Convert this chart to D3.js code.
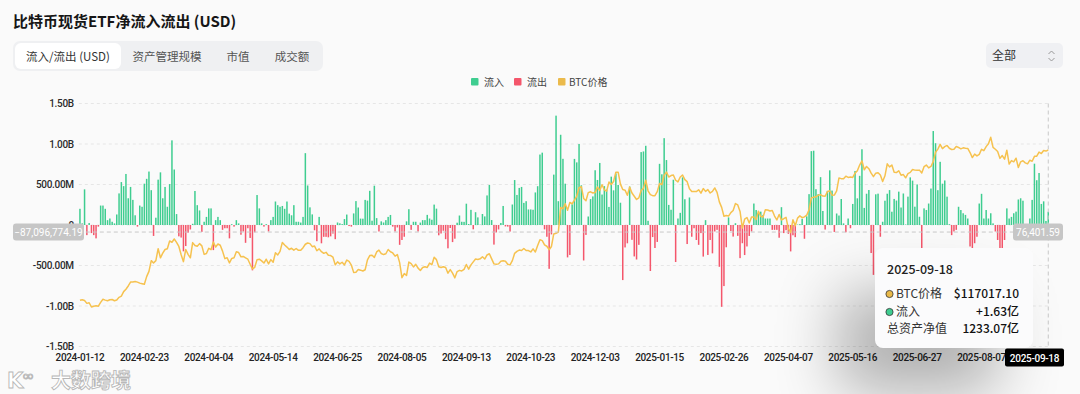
<!DOCTYPE html>
<html>
<head>
<meta charset="utf-8">
<script src="https://cdn.jsdelivr.net/npm/d3@7"></script>
<style>
  body { margin: 0; background: #fafafa; font-family: "Noto Sans CJK SC", "Noto Sans", sans-serif; }
  #chart { position: relative; width: 1080px; height: 394px; overflow: hidden; }
  #chart svg { position: absolute; left: 0; top: 0; }
  .tip { position: absolute; left: 875px; top: 248px; width: 158px; height: 100px; background: #fbfbfc;
         border-radius: 8px; box-shadow: -36px 44px 62px rgba(0,0,0,0.30); }
</style>
</head>
<body>
<div id="chart"></div>
<script>
// daily net flow, millions USD (one value per trading day, 2024-01-12 .. 2025-09-18)
var flows = [
  200,20,440,-125,25,-100,-125,-165,-20,240,240,200,60,80,40,20,130,390,530,480,630,330,470,310,120,-20,240,225,510,570,660,430,-135,
  90,560,650,330,470,225,505,1045,685,135,-140,-155,-325,-260,-95,-55,15,420,245,180,
  -85,40,100,205,205,-310,60,100,60,-60,-40,-40,-165,10,-20,60,20,-120,-80,-220,-40,-160,
  -560,-90,370,205,20,-20,10,-80,60,100,290,245,225,235,200,290,140,120,245,40,40,30,
  100,887,488,218,131,-65,-200,100,-226,-146,-146,-152,-140,-106,-175,31,21,11,73,
  129,-13,-20,143,295,216,79,78,310,301,422,53,485,85,-80,45,31,60,100,124,-20,-80,
  -30,-245,-185,-145,45,195,-60,40,40,-80,30,60,60,125,80,65,252,202,-127,-105,-71,-175,
  -288,-37,-211,-169,28,117,40,39,263,12,187,-53,158,94,4,136,106,365,494,61,
  -242,-92,-55,25,235,-18,-20,-81,253,555,371,458,470,273,294,192,192,188,402,479,870,893,-54,
  -145,-541,-116,622,1350,294,1114,817,510,-400,-370,255,816,773,1000,490,-438,-122,105,320,
  353,676,556,766,376,480,438,223,597,428,637,494,275,-680,-277,-226,475,-183,-388,-426,-245,
  900,908,978,52,-568,-149,-284,-209,755,626,1072,802,248,188,559,-457,80,150,588,318,
  -235,340,-145,-40,-185,-245,-100,-390,60,-370,-185,-350,-80,-60,-516,-1010,-754,-275,94,
  -74,-143,22,-134,-409,-225,-371,-265,-135,-80,265,185,145,165,125,80,80,80,-60,-60,-60,
  -157,220,-100,-64,-109,-326,-127,-150,5,10,76,-170,107,381,912,917,442,381,591,173,-56,
  422,675,425,-86,142,117,321,20,-90,80,-40,260,667,329,607,935,211,386,432,-346,-616,
  379,387,-145,40,300,386,431,164,322,302,412,216,389,6,350,588,548,226,501,102,
  -285,205,185,265,450,1160,1010,430,780,510,550,350,10,-125,-80,-60,225,185,145,125,80,-265,
  -285,-225,-145,265,385,80,185,80,145,20,-80,-185,-285,-285,-185,205,80,100,145,165,315,
  330,300,-40,-160,80,310,757,553,642,260,292,50,163
];

// BTC price, thousands USD, same days
var prices = [
  42.8,43.1,42.7,41.3,41.6,39.5,39.9,40.1,39.9,41.8,43.3,42.9,42.6,
  43.1,43.2,42.6,43.0,44.3,44.9,47.1,48.3,49.9,51.8,51.9,52.1,51.8,51.3,51.0,50.7,54.5,57.1,62.4,61.2,
  62.4,68.3,63.8,66.1,67.9,68.3,72.1,71.5,73.1,71.4,69.4,65.3,61.9,67.9,65.5,63.8,71.3,69.9,69.5,70.8,
  69.7,65.5,65.9,68.5,67.8,71.6,69.1,70.6,70.0,67.1,63.4,63.8,61.3,63.5,63.8,66.8,66.4,64.3,64.5,63.8,63.1,60.6,
  58.3,59.1,62.9,63.1,62.3,61.2,63.1,60.8,62.9,61.6,66.3,65.2,67.0,71.4,70.1,69.1,67.9,68.5,67.6,68.4,67.5,67.5,
  68.8,70.5,71.1,70.8,69.3,69.6,67.3,68.2,66.8,66.0,66.5,65.1,64.9,64.1,60.3,61.8,60.8,61.6,60.3,
  62.7,62.0,60.2,56.6,56.7,58.0,57.7,57.3,57.9,62.8,64.9,65.1,64.0,66.7,67.6,65.9,65.4,65.8,67.9,66.8,66.2,64.6,
  65.4,61.4,54.0,56.0,55.1,61.7,60.9,59.3,60.6,58.7,57.5,59.0,59.4,59.0,61.2,60.4,64.1,62.9,59.4,59.0,59.4,59.0,
  56.2,58.0,56.2,53.9,57.0,57.6,57.3,58.1,60.5,58.2,60.3,61.8,63.2,63.0,63.3,64.3,63.2,65.2,65.8,63.3,
  60.8,60.6,60.8,62.1,62.3,62.1,60.6,60.3,62.4,66.0,67.0,67.6,67.4,68.4,67.4,67.4,66.7,68.2,66.7,69.9,72.7,72.3,70.2,
  69.5,67.8,69.4,75.6,75.9,76.5,88.7,88.0,90.5,87.3,91.1,90.5,92.3,94.3,98.4,98.9,93.1,92.0,96.0,96.4,
  95.8,96.0,98.8,97.0,99.9,97.4,96.7,101.2,100.0,101.5,106.1,106.1,100.2,97.5,97.2,94.7,98.7,95.8,94.2,92.6,93.4,
  97.0,98.1,102.1,96.9,95.0,94.5,94.5,96.5,100.5,99.9,104.5,106.1,103.7,104.4,104.7,102.1,101.3,103.7,104.7,102.4,
  101.4,97.9,96.6,96.6,96.5,97.4,95.7,98.0,96.6,97.5,95.8,96.6,98.3,96.1,91.4,88.7,84.3,84.7,84.4,
  86.1,87.2,90.6,89.9,86.7,78.5,82.9,83.7,81.0,83.9,84.0,82.7,86.8,84.2,84.0,87.5,87.4,86.9,87.2,84.4,82.5,
  85.2,82.5,83.1,83.8,78.2,76.3,82.6,79.6,83.4,84.5,83.6,84.0,84.9,87.5,93.4,93.7,93.9,94.7,95.0,94.3,94.2,
  96.5,96.9,94.7,94.8,96.8,103.2,102.9,102.8,104.1,103.5,103.7,103.5,105.6,106.8,109.6,111.7,107.3,108.9,107.8,105.6,103.9,
  105.6,105.8,104.7,101.5,104.3,110.2,108.7,109.6,106.1,105.9,106.8,104.6,104.9,103.3,105.4,106.0,107.4,107.1,107.0,107.1,
  105.7,108.8,109.6,108.2,108.9,111.3,115.9,117.5,119.8,117.7,118.7,119.3,117.9,117.3,117.4,118.8,118.3,117.6,118.1,117.9,117.8,115.8,
  113.3,115.0,114.1,114.9,117.4,116.7,118.7,120.1,123.3,118.3,117.4,116.3,112.9,114.3,112.5,116.9,110.1,111.8,111.2,113.0,108.4,
  111.2,111.7,110.7,110.2,112.0,111.5,113.9,114.0,116.0,115.3,116.8,116.5,117.017
];

// x tick labels, every 28th trading day
var tickIdx = [0, 28, 56, 84, 112, 140, 168, 196, 224, 252, 280, 308, 336, 364, 392];
var tickLabels = ["2024-01-12","2024-02-23","2024-04-04","2024-05-14","2024-06-25","2024-08-05","2024-09-13",
  "2024-10-23","2024-12-03","2025-01-15","2025-02-26","2025-04-07","2025-05-16","2025-06-27","2025-08-07"];

var yTicks = [1500, 1000, 500, 0, -500, -1000, -1500];
var yTickLabels = ["1.50B", "1.00B", "500.00M", "0", "-500.00M", "-1.00B", "-1.50B"];

var tabs = ["流入/流出 (USD)", "资产管理规模", "市值", "成交额"];
var legendItems = ["流入", "流出", "BTC价格"];

// hovered point
var hoverIdx = 421;
var hoverDate = "2025-09-18";
var pointerFlow = -87096774.19;
var pointerPrice = 76401.59;
var tipRows = [["BTC价格", "$117017.10"], ["流入", "+1.63亿"], ["总资产净值", "1233.07亿"]];

var green = "#3fcd90", red = "#f4566b", gold = "#f6c24f";

var W = 1080, H = 394;
var plotTop = 103.5, plotBottom = 346.5, plotLeft = 78.8, plotRight = 1049.4;

var chart = d3.select("#chart");
var svg = chart.append("svg").attr("width", W).attr("height", H);

// header
svg.append("text").attr("x", 13).attr("y", 27)
  .attr("font-size", 15).attr("font-weight", 700).attr("fill", "#161616")
  .text("比特币现货ETF净流入流出 (USD)");

svg.append("rect").attr("x", 13).attr("y", 41).attr("width", 310).attr("height", 30)
  .attr("rx", 7).attr("fill", "#eff0f2");
svg.append("rect").attr("x", 15).attr("y", 43).attr("width", 106).attr("height", 26)
  .attr("rx", 6).attr("fill", "#fff");
var tabX = [68, 167, 238, 292];
svg.selectAll(".tab").data(tabs).enter().append("text")
  .attr("x", (d, i) => tabX[i]).attr("y", 60.5)
  .attr("text-anchor", "middle").attr("font-size", 11.5)
  .attr("fill", (d, i) => i == 0 ? "#333" : "#555")
  .text(d => d);

// range select
svg.append("rect").attr("x", 986).attr("y", 43).attr("width", 77).attr("height", 25)
  .attr("rx", 5).attr("fill", "#eff0f3");
svg.append("text").attr("x", 992).attr("y", 60).attr("font-size", 12).attr("fill", "#333").text("全部");
svg.append("path").attr("d", "M1048.5,54 L1051.5,51 L1054.5,54 M1048.5,58 L1051.5,61 L1054.5,58")
  .attr("fill", "none").attr("stroke", "#999").attr("stroke-width", 1);

// legend
var legX = [471, 514, 558];
var legColors = [green, red, "#ebba4b"];
var leg = svg.selectAll(".leg").data(legendItems).enter().append("g")
  .attr("transform", (d, i) => `translate(${legX[i]}, 78)`);
leg.append("rect").attr("width", 7.5).attr("height", 7.5).attr("rx", 1).attr("fill", (d, i) => legColors[i]);
leg.append("text").attr("x", (d, i) => i == 2 ? 11 : 13).attr("y", 7.5)
  .attr("font-size", 10).attr("fill", "#444").text(d => d);

// scales
var N = flows.length;
var x = d3.scaleBand().domain(d3.range(N)).range([plotLeft, plotRight])
  .paddingInner(0.35).paddingOuter(0.175);
var yFlow = d3.scaleLinear().domain([-1500, 1500]).range([plotBottom, plotTop]);
var yPrice = d3.scaleLinear().domain([20, 140]).range([plotBottom, plotTop]);
var cx = i => x(i) + x.bandwidth() / 2;

// grid
svg.append("g").selectAll("line").data(yTicks).enter().append("line")
  .attr("x1", plotLeft).attr("x2", plotRight)
  .attr("y1", d => yFlow(d)).attr("y2", d => yFlow(d))
  .attr("stroke", "#e6e6e6").attr("stroke-dasharray", "3,3");

// axes
var leftAxis = d3.axisLeft(yFlow).tickValues(yTicks)
  .tickFormat((d, i) => yTickLabels[i]).tickSize(0).tickPadding(5);
var gy = svg.append("g").attr("transform", `translate(${plotLeft}, 0)`).call(leftAxis);
gy.select(".domain").remove();
gy.selectAll("text").attr("font-family", "Roboto, sans-serif").attr("font-size", 10)
  .attr("font-weight", 500).attr("fill", "#2a2a2a").attr("letter-spacing", "-0.3px");

var bottomAxis = d3.axisBottom(x).tickValues(tickIdx)
  .tickFormat((d, i) => tickLabels[i]).tickSize(0).tickPadding(7);
var gx = svg.append("g").attr("transform", `translate(0, ${plotBottom})`).call(bottomAxis);
gx.select(".domain").remove();
gx.selectAll("text").attr("font-family", "Roboto, sans-serif").attr("font-size", 10)
  .attr("font-weight", 500).attr("fill", "#222").attr("letter-spacing", "-0.35px");

// bars
svg.append("g").selectAll("rect").data(flows).enter().append("rect")
  .attr("x", (d, i) => x(i))
  .attr("width", x.bandwidth())
  .attr("y", d => yFlow(Math.max(0, d)))
  .attr("height", d => Math.abs(yFlow(d) - yFlow(0)))
  .attr("fill", d => d >= 0 ? green : red);

// price line
var line = d3.line().x((d, i) => cx(i)).y(d => yPrice(d));
svg.append("path").datum(prices).attr("d", line)
  .attr("fill", "none").attr("stroke", gold).attr("stroke-width", 1.5)
  .attr("stroke-linejoin", "round");

// crosshair
var py = yFlow(pointerFlow / 1e6);
svg.append("line").attr("x1", plotLeft).attr("x2", plotRight).attr("y1", py).attr("y2", py)
  .attr("stroke", "#c8c8c8").attr("stroke-dasharray", "4,3");
svg.append("line").attr("x1", cx(hoverIdx)).attr("x2", cx(hoverIdx)).attr("y1", plotTop).attr("y2", plotBottom)
  .attr("stroke", "#c8c8c8").attr("stroke-dasharray", "4,3");

var fmt = d3.format(",.2f");
function pointerLabel(x0, w, txt) {
  svg.append("rect").attr("x", x0).attr("y", py - 8.5).attr("width", w).attr("height", 17)
    .attr("rx", 3).attr("fill", "#c6c6c6");
  svg.append("text").attr("x", x0 + w / 2).attr("y", py + 3.5).attr("text-anchor", "middle")
    .attr("font-family", "Roboto, sans-serif").attr("font-size", 10).attr("fill", "#fff")
    .text(txt);
}
pointerLabel(13, 71, fmt(pointerFlow));
pointerLabel(1013, 50, fmt(pointerPrice));

// tooltip
var tip = chart.append("div").attr("class", "tip");
var ts = tip.append("svg").attr("width", 158).attr("height", 100);
ts.append("text").attr("x", 12).attr("y", 26).attr("font-size", 12.5).attr("font-weight", 500)
  .attr("fill", "#222").text(hoverDate);
var dotColors = ["#e9b949", green, null];
var row = ts.selectAll(".row").data(tipRows).enter().append("g")
  .attr("transform", (d, i) => `translate(0, ${[46, 64, 81][i]})`);
row.filter((d, i) => dotColors[i]).append("circle")
  .attr("cx", 14.5).attr("cy", 0).attr("r", 3.6)
  .attr("fill", (d, i) => dotColors[i]).attr("stroke", "#333").attr("stroke-width", 0.8);
row.append("text").attr("x", (d, i) => dotColors[i] ? 21 : 12).attr("y", 4.3)
  .attr("font-size", 12).attr("fill", "#333").text(d => d[0]);
row.append("text").attr("x", 144).attr("y", 4.3).attr("text-anchor", "end")
  .attr("font-size", 12).attr("font-weight", 500).attr("fill", "#111").text(d => d[1]);

// overlay: axis pointer date + watermark
var over = chart.append("svg").attr("width", W).attr("height", H);
over.append("rect").attr("x", 1005).attr("y", 348.5).attr("width", 59).attr("height", 18)
  .attr("rx", 2).attr("fill", "#000");
over.append("text").attr("x", 1034.5).attr("y", 361.5).attr("text-anchor", "middle")
  .attr("font-family", "Roboto, sans-serif").attr("font-size", 10).attr("font-weight", 500)
  .attr("fill", "#fff").attr("letter-spacing", "-0.3px").text(hoverDate);

var wm = over.append("g").attr("fill", "#fff").attr("stroke", "#b8b8b8").attr("stroke-width", 0.9);
wm.append("text").attr("x", 7).attr("y", 388).attr("font-family", "DejaVu Sans, sans-serif")
  .attr("font-size", 21).attr("font-weight", 700).text("K");
wm.append("text").attr("x", 22).attr("y", 381).attr("font-family", "DejaVu Sans, sans-serif")
  .attr("font-size", 15).text("∞");
wm.append("text").attr("x", 51).attr("y", 388).attr("font-size", 20).attr("font-weight", 700)
  .text("大数跨境");
</script>
</body>
</html>
